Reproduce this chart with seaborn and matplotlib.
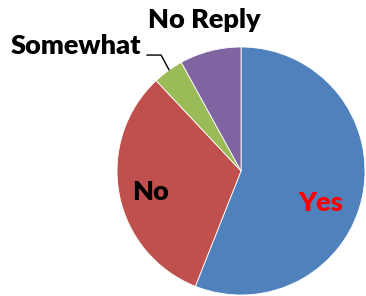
import matplotlib
matplotlib.use("Agg")
import matplotlib.pyplot as plt
import seaborn as sns

# survey answers
answers = ["Yes", "No", "Somewhat", "No Reply"]
shares = [56, 32, 4, 8]
slice_colors = ["#4F81BD", "#C0504D", "#9BBB59", "#8064A2"]
label_colors = ["#FF0000", "black", "black", "black"]

sns.set_style("white")
plt.rcParams["font.family"] = ["Lato", "DejaVu Sans"]

fig = plt.figure(figsize=(3.66, 2.96), dpi=100)
ax = fig.add_axes([0, 0, 1, 1])

wedges, _ = ax.pie(shares, colors=sns.color_palette(slice_colors), startangle=90,
                   counterclock=False, radius=1.0,
                   wedgeprops=dict(edgecolor="white", linewidth=0.6))

# label spots (data coords)
label_pos = {"Yes": (0.64, -0.26), "No": (-0.73, -0.17),
             "Somewhat": (-1.33, 1.01), "No Reply": (-0.30, 1.22)}
for name, col in zip(answers, label_colors):
    x, y = label_pos[name]
    ax.text(x, y, name, ha="center", va="center", fontsize=19.5,
            fontweight="heavy", color=col)

# leader line for the small slice
ax.plot([-0.76, -0.645, -0.58], [0.935, 0.935, 0.815], color="black", lw=1.0)

ax.set_xlim(-1.944, 1.008)
ax.set_ylim(-1.008, 1.379)
ax.set_aspect("auto")
ax.axis("off")

fig.savefig("out.png", dpi=100)
